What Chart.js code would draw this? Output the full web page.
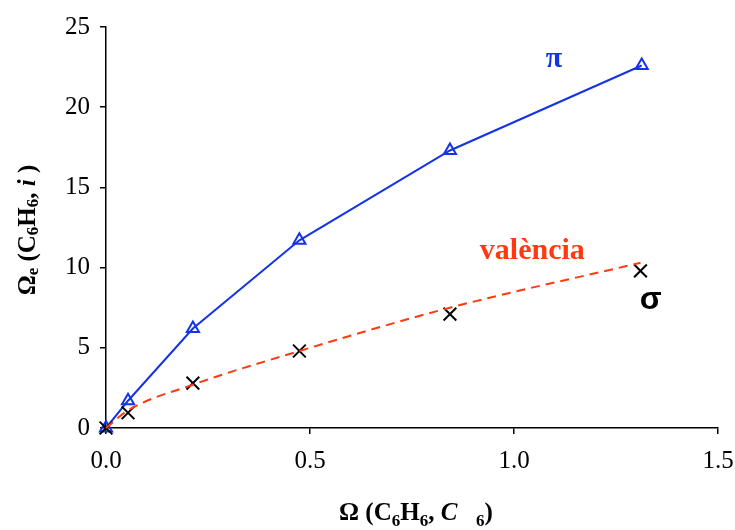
<!DOCTYPE html>
<html>
<head>
<meta charset="utf-8">
<script src="https://cdn.jsdelivr.net/npm/chart.js@4"></script>
<style>
  body { margin: 0; background: #fff; }
  canvas { display: block; }
</style>
</head>
<body>
<canvas id="omegaChart" width="735" height="530"></canvas>
<script>
// values
const piX = [0, 0.054, 0.213, 0.474, 0.843, 1.313];
const piY = [0, 1.7, 6.2, 11.7, 17.3, 22.6];
const sigmaX = [0, 0.054, 0.213, 0.474, 0.843, 1.31];
const sigmaY = [0, 0.95, 2.8, 4.8, 7.1, 9.8];
const valenciaY = [0, 1.1, 2.7, 4.8, 7.5, 10.3];
const xTicks = [0, 0.5, 1.0, 1.5];
const yTicks = [0, 5, 10, 15, 20, 25];

// axis titles as text segments: b = bold, i = italic, s = subscript
const yTitle = [['Ω', 'b'], ['e', 'bs'], [' (C', 'b'], ['6', 'bs'], ['H', 'b'], ['6', 'bs'], [', ', 'b'], ['i', 'bi'], [' )', 'b']];
const xTitle = [['Ω (C', 'b'], ['6', 'bs'], ['H', 'b'], ['6', 'bs'], [', ', 'b'], ['C', 'bi'], ['   ', 'b'], ['6', 'bs'], [')', 'b']];

const BLUE = '#1433e6';
const RED = '#ff3a10';
const SERIF = '"Liberation Serif", "Times New Roman", serif';

function segFont(style, size) {
    const sub = style.includes('s');
    return (style.includes('i') ? 'italic ' : '') + (style.includes('b') ? 'bold ' : '') +
        (sub ? Math.round(size * 0.68) : size) + 'px ' + SERIF;
}

function drawRich(ctx, segs, size, drop) {
    let total = 0;
    segs.forEach(([t, s]) => { ctx.font = segFont(s, size); total += ctx.measureText(t).width; });
    let x = -total / 2;
    ctx.textAlign = 'left';
    ctx.textBaseline = 'alphabetic';
    segs.forEach(([t, s]) => {
        ctx.font = segFont(s, size);
        ctx.fillText(t, x, s.includes('s') ? size * drop : 0);
        x += ctx.measureText(t).width;
    });
}

const labelsPlugin = {
    id: 'labelsPlugin',
    afterDraw(chart) {
        const ctx = chart.ctx;
        const xs = chart.scales.x, ys = chart.scales.y;
        ctx.save();
        ctx.fillStyle = '#000';
        // x title
        ctx.save();
        ctx.translate(416, 520);
        drawRich(ctx, xTitle, 25, 0.22);
        ctx.restore();
        // y title
        ctx.save();
        ctx.translate(35, 230);
        ctx.rotate(-Math.PI / 2);
        drawRich(ctx, yTitle, 25, 0.1);
        ctx.restore();

        // series names
        ctx.textAlign = 'center';
        ctx.textBaseline = 'middle';
        ctx.fillStyle = BLUE;
        ctx.font = 'bold 30px ' + SERIF;
        ctx.fillText('π', xs.getPixelForValue(1.098), ys.getPixelForValue(23.0));
        ctx.fillStyle = RED;
        ctx.font = 'bold 30px ' + SERIF;
        ctx.fillText('valència', xs.getPixelForValue(1.045), ys.getPixelForValue(11.0));
        ctx.fillStyle = '#000';
        ctx.font = 'bold 32px "Liberation Sans", Arial, sans-serif';
        ctx.fillText('σ', xs.getPixelForValue(1.335), ys.getPixelForValue(8.0));
        ctx.restore();
    }
};

const toPoints = (xs, ys) => xs.map((x, i) => ({ x: x, y: ys[i] }));

new Chart(document.getElementById('omegaChart'), {
    type: 'scatter',
    data: {
        datasets: [
            {
                label: 'valència',
                data: toPoints(sigmaX, valenciaY),
                showLine: true,
                borderColor: RED,
                borderWidth: 2,
                borderDash: [9, 6],
                cubicInterpolationMode: 'monotone',
                pointRadius: 0,
                clip: false
            },
            {
                label: 'σ',
                data: toPoints(sigmaX, sigmaY),
                showLine: false,
                pointStyle: 'crossRot',
                pointRadius: 9,
                borderColor: '#000',
                borderWidth: 2,
                clip: false
            },
            {
                label: 'π',
                data: toPoints(piX, piY),
                showLine: true,
                borderColor: BLUE,
                borderWidth: 2,
                backgroundColor: 'rgba(255,255,255,0)',
                pointStyle: 'triangle',
                pointRadius: 7,
                pointBorderWidth: 2,
                pointBorderColor: BLUE,
                pointBackgroundColor: 'rgba(255,255,255,0)',
                clip: false
            }
        ]
    },
    options: {
        responsive: false,
        animation: false,
        layout: { padding: { left: 0, top: 27, right: 17, bottom: 0 } },
        plugins: {
            legend: { display: false },
            tooltip: { enabled: false }
        },
        scales: {
            x: {
                type: 'linear',
                min: 0,
                max: 1.5,
                afterBuildTicks: (scale) => { scale.ticks = xTicks.map(v => ({ value: v })); },
                afterFit: (scale) => {
                    scale.height = 102;
                    scale.paddingLeft = 0;
                    scale.paddingRight = 0;
                },
                border: { color: '#000', width: 1.5 },
                grid: { drawOnChartArea: false, drawTicks: true, tickLength: 6, color: '#000', lineWidth: 1.5 },
                ticks: {
                    color: '#000',
                    padding: 12,
                    font: { family: SERIF, size: 25 },
                    callback: (v) => Number(v).toFixed(1)
                }
            },
            y: {
                type: 'linear',
                min: 0,
                max: 25,
                afterBuildTicks: (scale) => { scale.ticks = yTicks.map(v => ({ value: v })); },
                afterFit: (scale) => {
                    scale.width = 106;
                    scale.paddingTop = 0;
                    scale.paddingBottom = 0;
                },
                border: { color: '#000', width: 1.5 },
                grid: { drawOnChartArea: false, drawTicks: true, tickLength: 6, color: '#000', lineWidth: 1.5 },
                ticks: {
                    color: '#000',
                    padding: 10,
                    font: { family: SERIF, size: 25 }
                }
            }
        }
    },
    plugins: [labelsPlugin]
});
</script>
</body>
</html>
